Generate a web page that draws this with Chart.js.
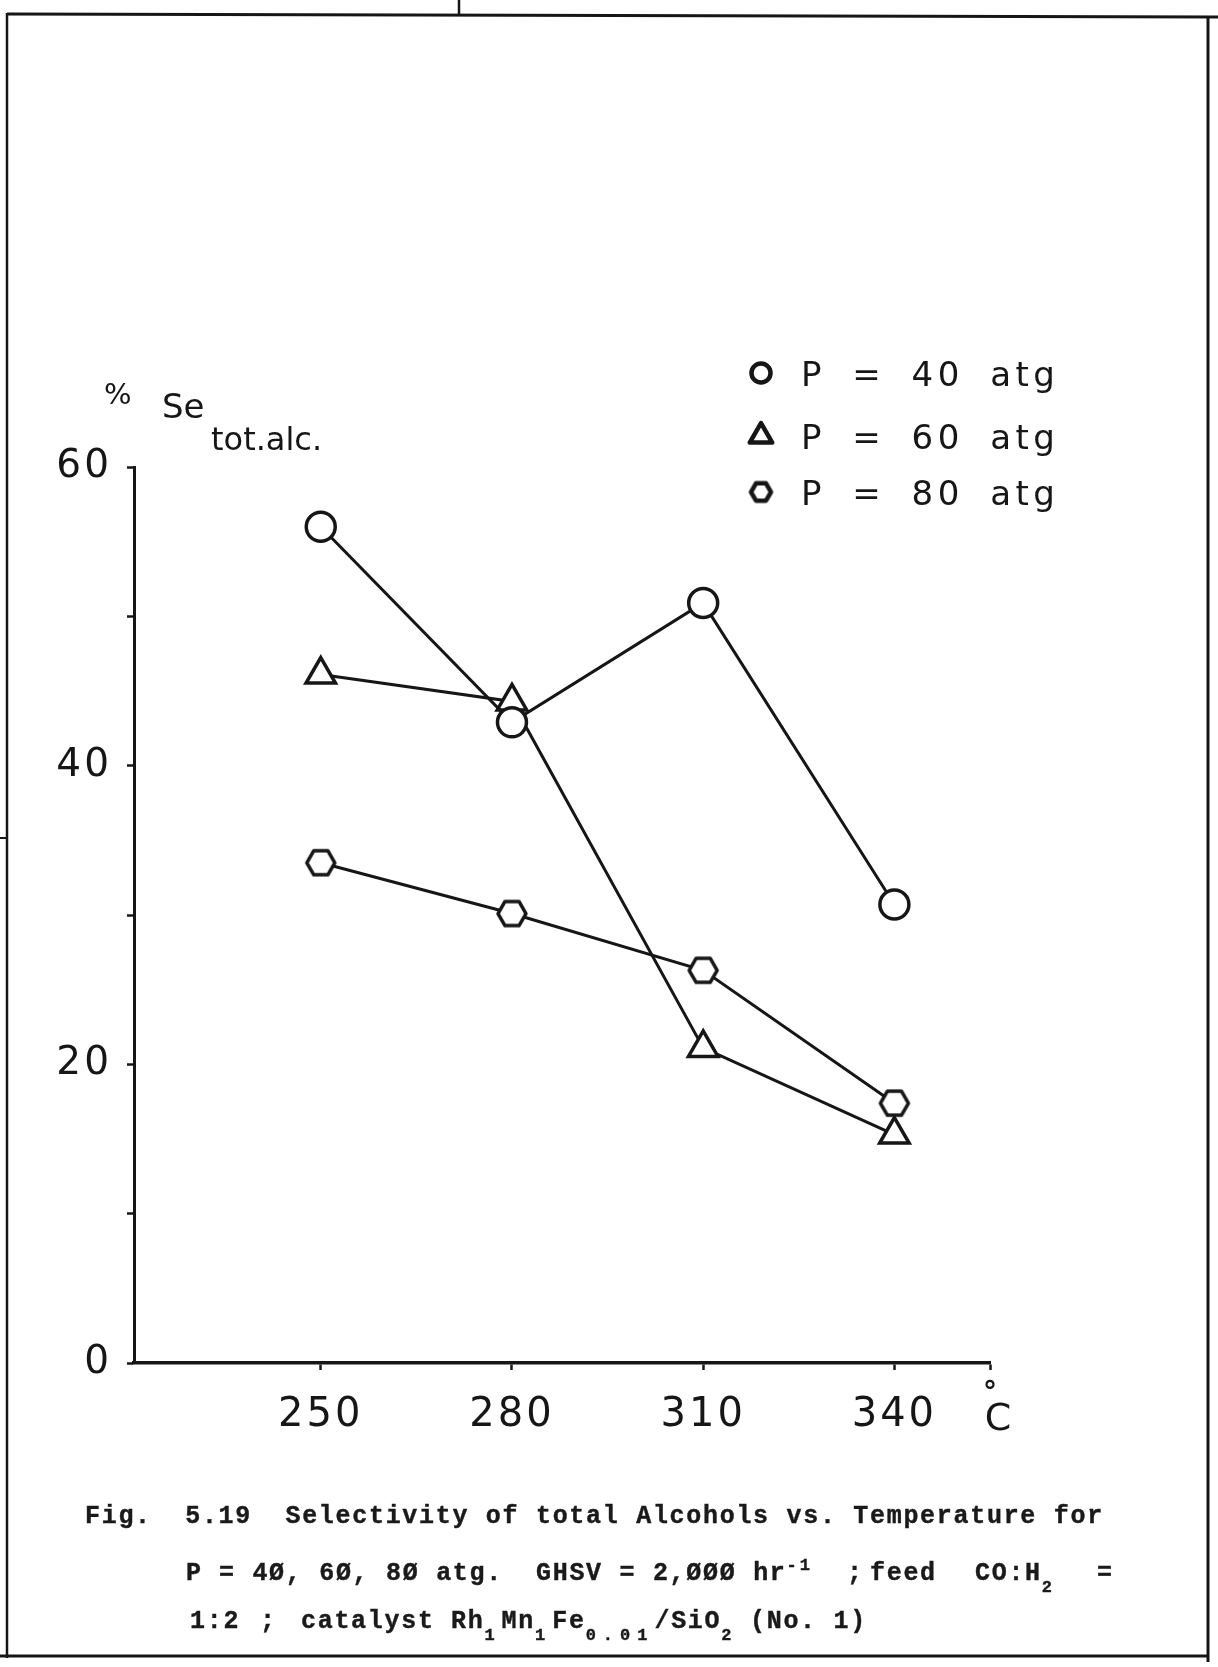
<!DOCTYPE html>
<html>
<head>
<meta charset="utf-8">
<script src="https://cdn.jsdelivr.net/npm/chart.js@4.4.1/dist/chart.umd.min.js"></script>
<style>
html,body{margin:0;padding:0;background:#fff;}
#wrap{position:relative;width:1218px;height:1667px;overflow:hidden;background:#fff;}
#c{position:absolute;left:0;top:0;}
.cap{position:absolute;font-family:"Liberation Mono","DejaVu Sans Mono",monospace;font-weight:bold;font-size:25px;line-height:25px;letter-spacing:1.7px;color:#1a1a1a;white-space:pre;-webkit-text-stroke:0.4px #1a1a1a;}
.cap sub{font-size:17px;letter-spacing:7px;position:relative;top:12px;vertical-align:baseline;line-height:0;}
.cap sup{font-size:17px;letter-spacing:3px;position:relative;top:-10px;vertical-align:baseline;line-height:0;}
</style>
</head>
<body>
<div id="wrap">
<canvas id="c" width="1218" height="1667"></canvas>
<!-- caption line 1 -->
<div class="cap" style="left:85px;top:1504px;">Fig.  5.19  Selectivity of total Alcohols vs. Temperature for</div>
<!-- caption line 2 -->
<div class="cap" style="left:186px;top:1561px;">P</div>
<div class="cap" style="left:219px;top:1561px;">= 4Ø, 6Ø, 8Ø atg.</div>
<div class="cap" style="left:536px;top:1561px;">GHSV = 2,ØØØ hr<sup>-1</sup></div>
<div class="cap" style="left:847px;top:1561px;">;</div>
<div class="cap" style="left:870px;top:1561px;">feed</div>
<div class="cap" style="left:975px;top:1561px;">CO:H<sub>2</sub></div>
<div class="cap" style="left:1097px;top:1561px;">=</div>
<!-- caption line 3 -->
<div class="cap" style="left:190px;top:1609px;">1:2</div>
<div class="cap" style="left:260px;top:1609px;">;</div>
<div class="cap" style="left:301px;top:1609px;">catalyst</div>
<div class="cap" style="left:451px;top:1609px;">Rh<sub>1</sub>Mn<sub>1</sub>Fe<sub>0.01</sub>/SiO<sub>2</sub></div>
<div class="cap" style="left:750px;top:1609px;">(No. 1)</div>
</div>
<script>
// ---- data ----
const temperatures = [250, 280, 310, 340];
const seriesLabels = ['P = 40 atg', 'P = 60 atg', 'P = 80 atg'];
const sel40 = [56.0, 42.9, 50.9, 30.7];
const sel60 = [46.1, 44.3, 21.1, 15.3];
const sel80 = [33.5, 30.1, 26.3, 17.4];
const xTickValues = [250, 280, 310, 340];
const xTickLabels = ['250', '280', '310', '340'];
const yTickValues = [0, 10, 20, 30, 40, 50, 60];
const yTickLabels = ['0', '', '20', '', '40', '', '60'];
const xAxisMin = 220.7, xAxisMax = 355;
const yAxisMin = 0, yAxisMax = 60;
const yTitle = 'Se', yTitlePrefix = '%', yTitleSub = 'tot.alc.';
const xUnit = 'C', xUnitDeg = '°';

const ink = '#161616';

function hexImage(r, lw) {
  const s = Math.ceil(2 * r + lw + 4);
  const c = document.createElement('canvas');
  c.width = s; c.height = s;
  const g = c.getContext('2d');
  const cx = s / 2, cy = s / 2;
  g.beginPath();
  for (let k = 0; k < 6; k++) {
    const a = Math.PI / 3 * k;
    const px = cx + r * Math.cos(a), py = cy + r * Math.sin(a);
    if (k === 0) g.moveTo(px, py); else g.lineTo(px, py);
  }
  g.closePath();
  g.fillStyle = '#fff'; g.fill();
  g.lineWidth = lw; g.strokeStyle = ink; g.lineJoin = 'round'; g.stroke();
  return c;
}
const hexPoint = hexImage(14, 3.5);
const hexLegend = hexImage(10, 4.5);

function toXY(vals) { return temperatures.map((t, i) => ({ x: t, y: vals[i] })); }

const common = {
  borderColor: ink, borderWidth: 3, pointBorderColor: ink, pointBackgroundColor: '#fff',
  pointBorderWidth: 3.5, tension: 0, fill: false, showLine: true
};
const datasets = [
  Object.assign({ label: seriesLabels[0], data: toXY(sel40), pointStyle: 'circle', pointRadius: 14.5, pointHoverRadius: 14.5 }, common),
  Object.assign({ label: seriesLabels[1], data: toXY(sel60), pointStyle: 'triangle', pointRadius: 17, pointHoverRadius: 17 }, common),
  Object.assign({ label: seriesLabels[2], data: toXY(sel80), pointStyle: hexPoint, pointRadius: 15, pointHoverRadius: 15 }, common)
];

function strokeLine(ctx, x1, y1, x2, y2, w) {
  ctx.beginPath(); ctx.lineWidth = w; ctx.moveTo(x1, y1); ctx.lineTo(x2, y2); ctx.stroke();
}

function drawMarker(ctx, style, x, y, r, lw) {
  ctx.save();
  ctx.lineWidth = lw; ctx.strokeStyle = ink; ctx.fillStyle = '#fff'; ctx.lineJoin = 'round';
  if (style === 'circle') {
    ctx.beginPath(); ctx.arc(x, y, r, 0, Math.PI * 2); ctx.fill(); ctx.stroke();
  } else if (style === 'triangle') {
    ctx.beginPath();
    let a = 0;
    for (let k = 0; k < 3; k++) {
      const px = x + Math.sin(a) * r, py = y - Math.cos(a) * r;
      if (k === 0) ctx.moveTo(px, py); else ctx.lineTo(px, py);
      a += 2 * Math.PI / 3;
    }
    ctx.closePath(); ctx.fill(); ctx.stroke();
  } else {
    ctx.drawImage(style, x - style.width / 2, y - style.height / 2);
  }
  ctx.restore();
}

function setSpacing(ctx, ls, ws) {
  try { ctx.letterSpacing = ls; ctx.wordSpacing = ws; } catch (e) {}
}

const decor = {
  id: 'decor',
  beforeDraw(chart) {
    const ctx = chart.ctx;
    ctx.save(); ctx.fillStyle = '#fff'; ctx.fillRect(0, 0, chart.width, chart.height); ctx.restore();
    // slightly wide lettering for the axis numbers
    setSpacing(ctx, '3px', '0px');
  },
  afterDraw(chart) {
    const ctx = chart.ctx;
    const area = chart.chartArea;
    setSpacing(ctx, '0px', '0px');
    ctx.save();
    ctx.strokeStyle = ink; ctx.fillStyle = ink; ctx.lineCap = 'butt';
    // page frame
    strokeLine(ctx, 7, 14, 1218, 17, 3);
    strokeLine(ctx, 7, 13, 7, 1658, 2.5);
    strokeLine(ctx, 0, 838, 7, 838, 2);
    strokeLine(ctx, 459, 0, 459, 15, 2.5);
    strokeLine(ctx, 1208, 17, 1208, 1662, 3);
    strokeLine(ctx, 0, 1656, 1209, 1656, 3);

    // y-axis title
    ctx.textAlign = 'left'; ctx.textBaseline = 'alphabetic';
    ctx.font = '29px "DejaVu Sans"';
    ctx.fillText(yTitlePrefix, 104, 404);
    ctx.font = '34px "DejaVu Sans"';
    ctx.fillText(yTitle, 162, 418);
    ctx.font = '32px "DejaVu Sans"';
    ctx.fillText(yTitleSub, 211, 450);

    // x unit  °C at the end of the axis
    const xEnd = area.right;
    ctx.textAlign = 'center';
    ctx.font = '38px "DejaVu Sans"';
    ctx.fillText(xUnit, xEnd + 8, 1430);
    ctx.font = 'bold 28px "DejaVu Sans"';
    ctx.fillText(xUnitDeg, xEnd, 1401);

    // legend
    const rows = [
      { y: 373, style: 'circle', r: 9.5, lw: 4.5 },
      { y: 436, style: 'triangle', r: 13, lw: 4.5 },
      { y: 492, style: hexLegend, r: 10, lw: 4.5 }
    ];
    ctx.font = '34px "DejaVu Sans"';
    ctx.textAlign = 'left';
    setSpacing(ctx, '4.5px', '11px');
    chart.data.datasets.forEach((ds, i) => {
      const row = rows[i];
      drawMarker(ctx, row.style, 761, row.y, row.r, row.lw);
      ctx.fillStyle = ink;
      ctx.fillText(ds.label, 801, row.y + 13);
    });
    setSpacing(ctx, '0px', '0px');
    ctx.restore();
  }
};

const tickFontX = { family: 'DejaVu Sans', size: 40 };
const tickFontY = { family: 'DejaVu Sans', size: 39 };

new Chart(document.getElementById('c'), {
  type: 'line',
  data: { datasets },
  options: {
    responsive: false, animation: false, devicePixelRatio: 1,
    layout: { padding: { left: 54, right: 228, top: 467, bottom: 204 } },
    plugins: { legend: { display: false }, tooltip: { enabled: false } },
    events: [],
    scales: {
      x: {
        type: 'linear', min: xAxisMin, max: xAxisMax,
        afterFit(s) { s.height = 100; },
        afterBuildTicks(s) { s.ticks = xTickValues.concat([xAxisMax]).map(v => ({ value: v })); },
        ticks: {
          autoSkip: false, maxRotation: 0, padding: 22, color: ink, font: tickFontX,
          callback: (v) => { const i = xTickValues.indexOf(v); return i >= 0 ? xTickLabels[i] : ''; }
        },
        grid: { drawOnChartArea: false, drawTicks: true, tickLength: 7, tickWidth: 2.5, tickColor: ink },
        border: { display: true, color: ink, width: 3.5 }
      },
      y: {
        type: 'linear', min: yAxisMin, max: yAxisMax,
        afterFit(s) { s.width = 80; },
        afterBuildTicks(s) { s.ticks = yTickValues.map(v => ({ value: v })); },
        ticks: {
          autoSkip: false, padding: 15, color: ink, font: tickFontY,
          callback: (v) => { const i = yTickValues.indexOf(v); return i >= 0 ? yTickLabels[i] : ''; }
        },
        grid: { drawOnChartArea: false, drawTicks: true, tickLength: 7, tickWidth: 2.5, tickColor: ink },
        border: { display: true, color: ink, width: 3 }
      }
    }
  },
  plugins: [decor]
});
</script>
</body>
</html>
